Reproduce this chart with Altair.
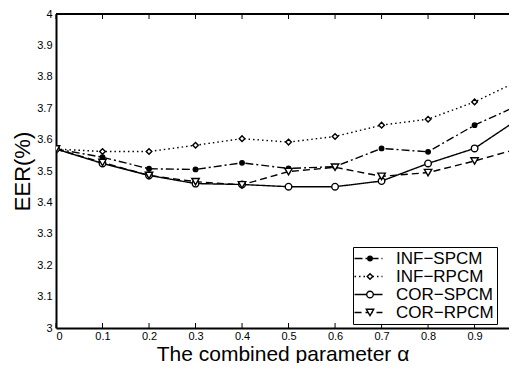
import altair as alt
import pandas as pd

alpha = [0.0, 0.1, 0.2, 0.3, 0.4, 0.5, 0.6, 0.7, 0.8, 0.9, 1.0]
inf_spcm = [3.570, 3.544, 3.507, 3.505, 3.526, 3.508, 3.514, 3.572, 3.561, 3.646, 3.713]
inf_rpcm = [3.570, 3.562, 3.562, 3.582, 3.603, 3.592, 3.610, 3.646, 3.665, 3.720, 3.791]
cor_spcm = [3.570, 3.524, 3.486, 3.460, 3.457, 3.450, 3.450, 3.468, 3.524, 3.572, 3.671]
cor_rpcm = [3.570, 3.527, 3.486, 3.466, 3.456, 3.498, 3.512, 3.483, 3.495, 3.532, 3.574]
series_names = ["INF−SPCM", "INF−RPCM", "COR−SPCM", "COR−RPCM"]
marker_keys = ["m1", "m2", "m3", "m4"]
x_ticks = [0, 0.1, 0.2, 0.3, 0.4, 0.5, 0.6, 0.7, 0.8, 0.9]
y_ticks = [3.0, 3.1, 3.2, 3.3, 3.4, 3.5, 3.6, 3.7, 3.8, 3.9, 4.0]

rows = []
for name, key, vals in zip(series_names, marker_keys, [inf_spcm, inf_rpcm, cor_spcm, cor_rpcm]):
    for a, v in zip(alpha, vals):
        rows.append({"alpha": a, "eer": v, "series": name, "marker": key})
df = pd.DataFrame(rows)
ticks_df = pd.DataFrame({"alpha": x_ticks})

W, H = 453, 314
X_MAX = 0.974
FONT = "Liberation Sans"

xscale = alt.Scale(domain=[0, X_MAX], nice=False, zero=False)
yscale = alt.Scale(domain=[3, 4], nice=False, zero=False)

xaxis = alt.Axis(values=x_ticks, format="~g", title="The combined parameter α",
                 labelFont=FONT, labelFontSize=11, titleFont=FONT, titleFontSize=21,
                 titleFontWeight="normal", titleColor="black", labelColor="black",
                 domainColor="black", domainWidth=2, ticks=False, grid=False,
                 labelOverlap=False, labelPadding=2, titlePadding=2)
yaxis = alt.Axis(values=y_ticks, format="~g", title="EER(%)",
                 labelFont=FONT, labelFontSize=11, titleFont=FONT, titleFontSize=22,
                 titleFontWeight="normal", titleColor="black", labelColor="black",
                 domainColor="black", domainWidth=2, ticks=False, grid=False,
                 labelOverlap=False, labelPadding=4, titlePadding=2)

dash_range = [[8, 3, 2, 3], [1.5, 3], [1, 0], [7, 4]]

LEG_X, LEG_Y = 297, 233
base = alt.Chart(df).encode(
    x=alt.X("alpha:Q", scale=xscale, axis=xaxis),
    y=alt.Y("eer:Q", scale=yscale, axis=yaxis),
)

lines = base.mark_line(color="black", strokeWidth=1.4, clip=True).encode(
    strokeDash=alt.StrokeDash(
        "series:N",
        scale=alt.Scale(domain=series_names, range=dash_range),
        legend=alt.Legend(orient="none", legendX=LEG_X, legendY=LEG_Y, title=None,
                          symbolType="M-3,0H3", symbolSize=87, symbolStrokeColor="black",
                          symbolStrokeWidth=1.5, symbolOffset=4, labelFont=FONT,
                          labelFontSize=17, labelColor="black", labelOffset=19,
                          padding=3, rowPadding=0, strokeColor="black",
                          fillColor="white", zindex=1),
    ),
)

points = base.mark_point(stroke="black", strokeWidth=1.4, opacity=1,
                         fillOpacity=1, clip=True).encode(
    shape=alt.Shape("marker:N",
                    scale=alt.Scale(domain=marker_keys,
                                    range=["circle", "diamond", "circle", "triangle-down"]),
                    legend=alt.Legend(orient="none", legendX=LEG_X, legendY=LEG_Y, title=None,
                                      labelFont=FONT, labelFontSize=17, labelExpr="' '",
                                      labelColor="transparent", padding=3, rowPadding=0,
                                      symbolOffset=5.5,
                                      symbolStrokeColor="black", symbolStrokeWidth=1.4,
                                      zindex=2)),
    fill=alt.Fill("marker:N",
                  scale=alt.Scale(domain=marker_keys,
                                  range=["black", "white", "white", "white"])),
    size=alt.Size("marker:N",
                  scale=alt.Scale(domain=marker_keys, range=[20, 55, 50, 45])),
)

top_rule = alt.Chart(df).mark_rule(color="black", strokeWidth=2).encode(
    x=alt.value(0), x2=alt.value(W), y=alt.value(0))

tick_base = alt.Chart(ticks_df).encode(x=alt.X("alpha:Q", scale=xscale, axis=xaxis))
bottom_ticks = tick_base.mark_rule(color="black", strokeWidth=1).encode(
    y=alt.value(H - 5), y2=alt.value(H))
top_ticks = tick_base.mark_rule(color="black", strokeWidth=1).encode(
    y=alt.value(0), y2=alt.value(5))

chart = alt.layer(lines, points, top_rule, bottom_ticks, top_ticks).properties(
    width=W, height=H,
    autosize=alt.AutoSizeParams(type="none"),
    padding={"left": 48, "top": 6, "right": 0, "bottom": 35},
).configure_view(stroke=None).configure(background="white")

chart.save("out.html", embed_options={"renderer": "svg", "actions": False})
